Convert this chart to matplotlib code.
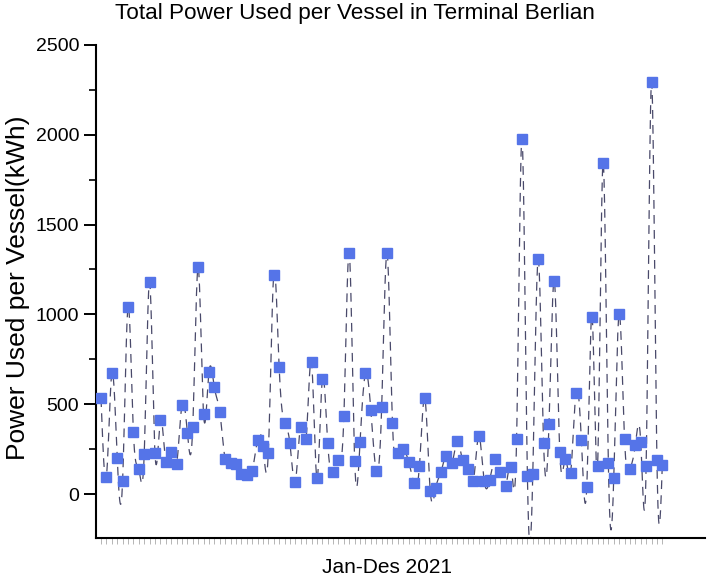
import numpy as np
import matplotlib
matplotlib.use("Agg")
import matplotlib.pyplot as plt

plt.rcParams['font.family'] = ['Liberation Sans', 'DejaVu Sans']

# power per vessel in plotted order (Jan..Des 2021)
vessel_no = list(range(1, 106))
power_kwh = [
    533, 96, 672, 202, 72, 1043, 347, 139, 221, 1179,
    226, 412, 180, 236, 167, 496, 341, 375, 1262, 444,
    678, 594, 458, 193, 174, 165, 110, 105, 128, 301,
    267, 230, 1222, 709, 397, 282, 68, 375, 306, 735,
    87, 638, 284, 125, 189, 434, 1340, 185, 291, 671,
    465, 128, 482, 1342, 398, 227, 251, 180, 60, 156,
    534, 17, 32, 124, 212, 170, 295, 188, 139, 72,
    323, 72, 78, 193, 124, 42, 148, 307, 1977, 103,
    109, 1307, 284, 388, 1186, 236, 193, 119, 564, 301,
    41, 987, 156, 1843, 174, 87, 1003, 308, 137, 273,
    291, 154, 2294, 191, 163,
]
y_ticks = [0, 500, 1000, 1500, 2000, 2500]


def natural_spline(x, y, per_seg=16):
    """Natural cubic spline through the points, for the connecting line."""
    x = np.asarray(x, float)
    y = np.asarray(y, float)
    n = len(x)
    h = np.diff(x)
    A = np.zeros((n, n))
    b = np.zeros(n)
    A[0, 0] = A[-1, -1] = 1.0
    for i in range(1, n - 1):
        A[i, i - 1] = h[i - 1]
        A[i, i] = 2 * (h[i - 1] + h[i])
        A[i, i + 1] = h[i]
        b[i] = 3 * ((y[i + 1] - y[i]) / h[i] - (y[i] - y[i - 1]) / h[i - 1])
    c = np.linalg.solve(A, b)
    xs, ys = [], []
    for i in range(n - 1):
        t = np.linspace(0, h[i], per_seg, endpoint=False)
        bb = (y[i + 1] - y[i]) / h[i] - h[i] * (2 * c[i] + c[i + 1]) / 3
        d = (c[i + 1] - c[i]) / (3 * h[i])
        xs.append(x[i] + t)
        ys.append(y[i] + bb * t + c[i] * t ** 2 + d * t ** 3)
    xs.append([x[-1]])
    ys.append([y[-1]])
    return np.concatenate(xs), np.concatenate(ys)


fig = plt.figure(figsize=(7.1, 5.79), dpi=100)
ax = fig.add_axes([0.1352, 0.0708, 0.8577, 0.8515])

sx, sy = natural_spline(vessel_no, power_kwh)
ax.plot(sx, sy, color='#1c1c45', lw=0.9, ls=(0, (7, 5)), alpha=0.8, zorder=2)
ax.plot(vessel_no, power_kwh, ls='none', marker='s', ms=6.8,
        color='#5574e8', mec='#5574e8', zorder=3)

ax.set_xlim(0.07, 112.9)
ax.set_ylim(-245, 2500)
ax.set_yticks(y_ticks)
ax.set_yticks(np.arange(250, 2500, 500), minor=True)
ax.set_xticks([])
ax.set_xticks(vessel_no, minor=True)
ax.tick_params(axis='y', which='major', length=9, width=1.4, labelsize=14, pad=3)
ax.tick_params(axis='y', which='minor', length=5, width=1.2)
ax.tick_params(axis='x', which='minor', length=4, width=0.6, color='#aaaaaa')

for side in ['top', 'right']:
    ax.spines[side].set_visible(False)
for side in ['left', 'bottom']:
    ax.spines[side].set_linewidth(1.5)

fig.text(0.5, 0.976, "Total Power Used per Vessel in Terminal Berlian",
         fontsize=16.2, ha='center', va='center')
ax.set_xlabel("Jan-Des 2021", fontsize=15)
ax.xaxis.set_label_coords(0.478, -0.041)
ax.set_ylabel("Power Used per Vessel(kWh)", fontsize=19)
ax.yaxis.set_label_coords(-0.108, 0.507)

fig.savefig("out.png", dpi=100)
